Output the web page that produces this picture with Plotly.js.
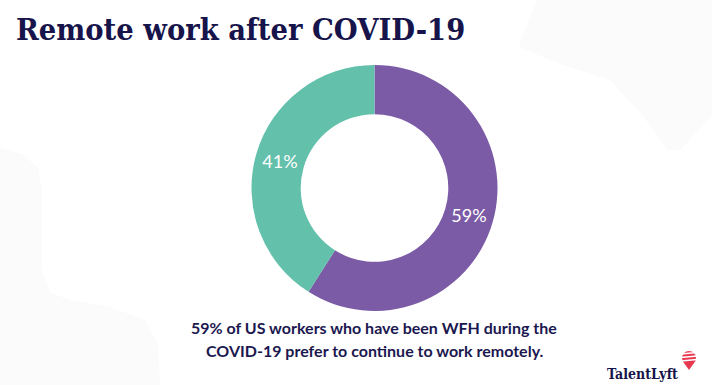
<!DOCTYPE html>
<html>
<head>
<meta charset="utf-8">
<script src="https://cdn.plot.ly/plotly-3.0.1.min.js"></script>
<style>html,body{margin:0;padding:0;background:#fff;}#chart{width:712px;height:385px;}</style>
</head>
<body>
<div id="chart"></div>
<script>
const labels = ["Prefer to continue remote work", "Do not prefer remote work"];
const values = [59, 41];
const colors = ["#7B5AA6", "#62C0AB"];
const titleText = "Remote work after COVID-19";
const captionLines = ["59% of US workers who have been WFH during the", "COVID-19 prefer to continue to work remotely."];
const brand = "TalentLyft";

const W = 712, H = 385;
const px = x => x / W;
const py = y => 1 - y / H;
function pathFrom(pts){
  return "M" + pts.map(p => px(p[0]).toFixed(4) + "," + py(p[1]).toFixed(4)).join(" L") + " Z";
}

const blobTR = [[537,0],[528,22],[519,47],[560,64],[610,80],[640,112],[668,150],[680,150],[712,115],[712,0]];
const blobL = [[0,148],[22,154],[38,168],[42,190],[42,270],[50,292],[70,300],[110,307],[145,320],[158,345],[160,385],[0,385]];

const data = [{
  type: "pie",
  labels: labels,
  values: values,
  marker: {colors: colors, line: {color: "#ffffff", width: 0}},
  hole: 0.6,
  sort: false,
  direction: "clockwise",
  rotation: 0,
  textinfo: "percent",
  textposition: "inside",
  insidetextorientation: "horizontal",
  textfont: {family: "Lato, sans-serif", size: 18, color: "#ffffff"},
  domain: {x: [px(247), px(502)], y: [py(311), py(65)]},
  showlegend: false,
  hoverinfo: "label+percent"
}];

const stripes = [];
[354, 357.5, 361].forEach(y => stripes.push({type: "line", xref: "paper", yref: "paper", x0: px(681), x1: px(697), y0: py(y), y1: py(y - 1.5), line: {color: "#ffffff", width: 1.3}}));

const layout = {
  width: W, height: H,
  margin: {l: 0, r: 0, t: 0, b: 0},
  paper_bgcolor: "#ffffff",
  plot_bgcolor: "#ffffff",
  showlegend: false,
  title: {
    text: "<b>" + titleText + "</b>",
    x: px(16), xanchor: "left", y: py(29), yanchor: "middle",
    font: {family: "DejaVu Serif Condensed, DejaVu Serif, serif", size: 30.5, color: "#16144A"}
  },
  shapes: [
    {type: "path", xref: "paper", yref: "paper", path: pathFrom(blobTR), fillcolor: "#fbfbfb", line: {width: 0}, layer: "below"},
    {type: "path", xref: "paper", yref: "paper", path: pathFrom(blobL), fillcolor: "#fbfbfb", line: {width: 0}, layer: "below"},
    {type: "path", xref: "paper", yref: "paper", path: pathFrom([[684,363],[694,363],[689,370]]), fillcolor: "#E8384F", line: {width: 0}},
    {type: "circle", xref: "paper", yref: "paper", x0: px(682), x1: px(696), y0: py(365), y1: py(351), fillcolor: "#E8384F", line: {width: 0}}
  ].concat(stripes),
  annotations: [
    {text: "<b>" + captionLines[0] + "</b>", xref: "paper", yref: "paper", x: px(374), y: py(327), xanchor: "center", yanchor: "middle", showarrow: false,
     font: {family: "Lato, sans-serif", size: 16, color: "#1B1850"}},
    {text: "<b>" + captionLines[1] + "</b>", xref: "paper", yref: "paper", x: px(374), y: py(350), xanchor: "center", yanchor: "middle", showarrow: false,
     font: {family: "Lato, sans-serif", size: 16, color: "#1B1850"}},
    {text: "<b>" + brand + "</b>", xref: "paper", yref: "paper", x: px(605), y: py(374), xanchor: "left", yanchor: "middle", showarrow: false,
     font: {family: "DejaVu Serif Condensed, DejaVu Serif, serif", size: 14, color: "#16144A"}}
  ]
};

Plotly.newPlot("chart", data, layout, {displayModeBar: false, staticPlot: true});
</script>
</body>
</html>
